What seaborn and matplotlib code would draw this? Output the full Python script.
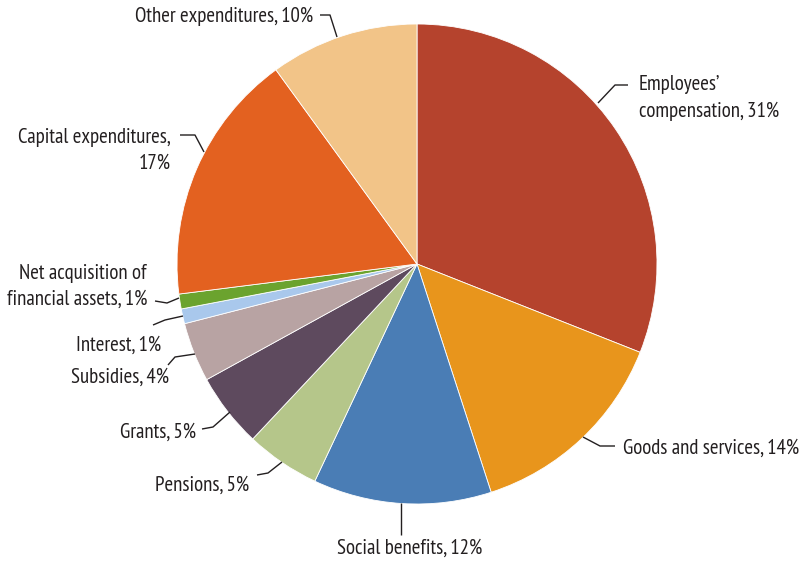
import matplotlib
matplotlib.use("Agg")
import matplotlib.pyplot as plt
import seaborn as sns

# Spending shares (%), clockwise from 12 o'clock
categories = [
    "Employees’\ncompensation",
    "Goods and services",
    "Social benefits",
    "Pensions",
    "Grants",
    "Subsidies",
    "Interest",
    "Net acquisition of\nfinancial assets",
    "Capital expenditures,\n",
    "Other expenditures",
]
shares = [31, 14, 12, 5, 5, 4, 1, 1, 17, 10]
colors = ["#B5432D", "#E8951C", "#4A7DB5", "#B5C68A", "#5E4A5E",
          "#B8A3A3", "#A9C8EC", "#6BA32E", "#E36120", "#F2C488"]

# Label layout in pixel coords: leader points, text position, alignment
label_layout = [
    ([(598, 103), (615, 85), (628, 85)], (639, 98), "left"),
    ([(583, 437), (600, 446), (615, 446)], (623, 448), "left"),
    ([(401, 503), (401, 535)], (410, 548), "center"),
    ([(282, 462), (268, 473), (257, 475)], (249, 485), "right"),
    ([(230, 412), (213, 427), (202, 429)], (196, 432), "right"),
    ([(195, 354), (175, 357), (168, 365)], (169, 377), "right"),
    ([(183, 316), (165, 320), (153, 325)], (161, 345), "right"),
    ([(179, 298), (167, 303), (155, 301)], (147, 286), "right"),
    ([(204, 152), (195, 135), (180, 135)], (171, 150), "right"),
    ([(337, 37), (330, 15), (320, 15)], (313, 16), "right"),
]

W, H = 804, 562

sns.set_theme(style="white")
plt.rcParams["font.family"] = ["PT Sans Narrow", "DejaVu Sans"]

fig = plt.figure(figsize=(W / 100, H / 100), dpi=100)
ax = fig.add_axes([0, 0, 1, 1])

ax.pie(shares, colors=colors, startangle=90, counterclock=False,
       center=(417, H - 264), radius=240,
       wedgeprops=dict(linewidth=0.6, edgecolor="white"))

text_color = "#231F20"
for cat, val, (pts, (tx, ty), ha) in zip(categories, shares, label_layout):
    xs = [p[0] for p in pts]
    ys = [H - p[1] for p in pts]
    ax.plot(xs, ys, color=text_color, lw=1.0, solid_capstyle="butt")
    if cat.endswith("\n"):
        label = f"{cat}{val}%"
    else:
        label = f"{cat}, {val}%"
    ax.text(tx, H - ty, label, ha=ha, va="center", fontsize=15,
            color=text_color, linespacing=1.45, multialignment=ha)

ax.set_xlim(0, W)
ax.set_ylim(0, H)
ax.set_aspect("equal")
ax.axis("off")

fig.savefig("out.png", dpi=100)
